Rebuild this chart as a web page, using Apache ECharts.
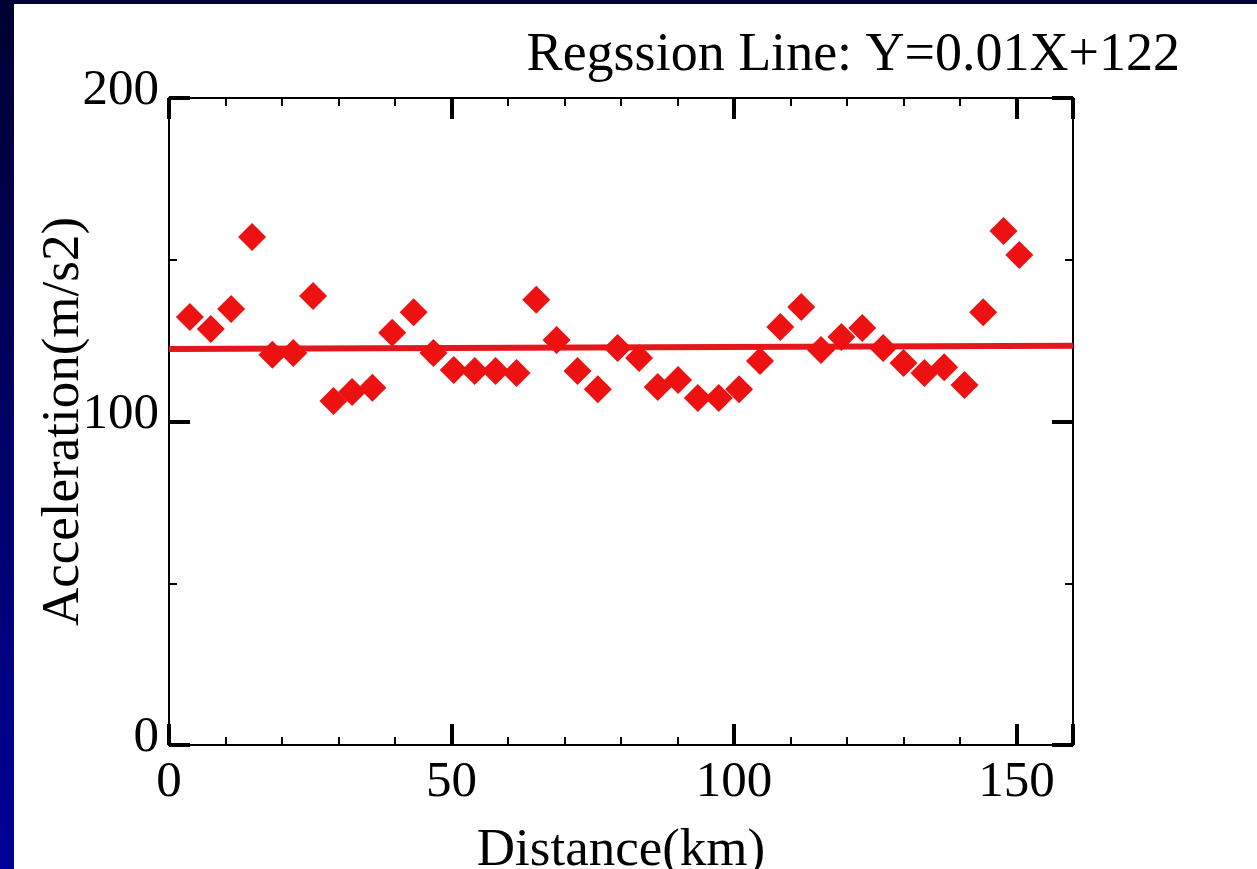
<!DOCTYPE html>
<html>
<head>
<meta charset="utf-8">
<script src="https://cdn.jsdelivr.net/npm/echarts@6/dist/echarts.min.js"></script>
<style>
html, body { margin: 0; padding: 0; }
#chart { width: 1257px; height: 869px; }
</style>
</head>
<body>
<div id="chart"></div>
<script>
// data
var distance = [3.7, 7.4, 11.0, 14.7, 18.3, 22.0, 25.5, 29.1, 32.4, 36.0,
	39.5, 43.3, 46.8, 50.4, 54.1, 57.8, 61.5, 65.0, 68.6, 72.3,
	75.9, 79.4, 83.2, 86.5, 90.1, 93.6, 97.3, 100.9, 104.6, 108.2,
	111.9, 115.4, 119.0, 122.7, 126.4, 130.0, 133.7, 137.2, 140.8, 144.1,
	147.7, 150.5];
var acceleration = [132.3, 128.6, 134.8, 157.0, 120.6, 121.2, 138.8, 106.3, 109.1, 110.4,
	127.4, 133.8, 121.2, 115.9, 115.6, 115.6, 115.0, 137.6, 125.2, 115.6,
	110.0, 122.7, 119.6, 110.7, 112.8, 107.3, 107.3, 110.0, 118.7, 129.2,
	135.4, 122.1, 126.1, 128.9, 122.7, 118.1, 115.0, 116.8, 111.3, 133.8,
	158.9, 151.5];
var lineX = [0, 160];
var lineY = [122.4, 123.4];
var xTicks = [0, 50, 100, 150];
var yTicks = [0, 100, 200];

var points = [];
for (var i = 0; i < distance.length; i++) {
	points.push([distance[i], acceleration[i]]);
}
var regLine = [];
for (var j = 0; j < lineX.length; j++) {
	regLine.push([lineX[j], lineY[j]]);
}

var font = '"Liberation Serif", "Times New Roman", serif';

function axisBase(pos, showLabel) {
	return {
		type : 'value',
		position : pos,
		nameMoveOverlap : false,
		axisLine : { show : true, onZero : false, lineStyle : { color : '#000', width : 2 } },
		axisTick : { show : true, inside : true, length : 21, lineStyle : { color : '#000', width : 4 } },
		minorTick : { show : true, length : 8, lineStyle : { color : '#000', width : 2 } },
		splitLine : { show : false },
		axisLabel : {
			show : showLabel,
			color : '#000',
			fontFamily : font,
			fontSize : 51
		}
	};
}

var xBottom = axisBase('bottom', true);
xBottom.min = 0;
xBottom.max = 160;
xBottom.interval = 50;
xBottom.minorTick.splitNumber = 5;
xBottom.axisLabel.margin = 12;
xBottom.axisLabel.formatter = function(v) { return xTicks.indexOf(v) >= 0 ? String(v) : ''; };
xBottom.name = 'Distance(km)';
xBottom.nameLocation = 'middle';
xBottom.nameGap = 80;
xBottom.nameTextStyle = { color : '#000', fontFamily : font, fontSize : 53 };

var xTop = axisBase('top', false);
xTop.min = 0;
xTop.max = 160;
xTop.interval = 50;
xTop.minorTick.splitNumber = 5;

var yLeft = axisBase('left', true);
yLeft.min = 0;
yLeft.max = 200;
yLeft.interval = 100;
yLeft.minorTick.splitNumber = 2;
yLeft.axisLabel.margin = 10;
yLeft.axisLabel.verticalAlign = 'bottom';
yLeft.axisLabel.lineHeight = 14;
yLeft.axisLabel.formatter = function(v) { return yTicks.indexOf(v) >= 0 ? String(v) : ''; };
yLeft.name = 'Acceleration(m/s2)';
yLeft.nameLocation = 'middle';
yLeft.nameGap = 78;
yLeft.nameTextStyle = { color : '#000', fontFamily : font, fontSize : 53 };

var yRight = axisBase('right', false);
yRight.min = 0;
yRight.max = 200;
yRight.interval = 100;
yRight.minorTick.splitNumber = 2;

var myChart = echarts.init(document.getElementById('chart'));
var option = {
	animation : false,
	backgroundColor : new echarts.graphic.LinearGradient(0, 0, 0, 1, [
		{ offset : 0, color : '#000033' },
		{ offset : 1, color : '#000099' }
	]),
	graphic : [ {
		type : 'rect',
		z : -10,
		shape : { x : 14, y : 4, width : 1243, height : 865 },
		style : { fill : '#ffffff' }
	} ],
	title : {
		text : 'Regssion Line: Y=0.01X+122',
		right : 72,
		top : 24,
		textStyle : { color : '#000', fontFamily : font, fontSize : 54, fontWeight : 'normal' }
	},
	grid : { left : 169, top : 98, right : 184, bottom : 124, outerBoundsMode : 'none', containLabel : false },
	xAxis : [ xBottom, xTop ],
	yAxis : [ yLeft, yRight ],
	series : [ {
		name : 'regression',
		type : 'line',
		data : regLine,
		symbol : 'none',
		lineStyle : { color : '#e5161c', width : 6 },
		z : 2
	}, {
		name : 'acceleration',
		type : 'scatter',
		data : points,
		symbol : 'diamond',
		symbolSize : 28,
		itemStyle : { color : '#ee1111', opacity : 1 },
		z : 3
	} ]
};
myChart.setOption(option);
</script>
</body>
</html>
